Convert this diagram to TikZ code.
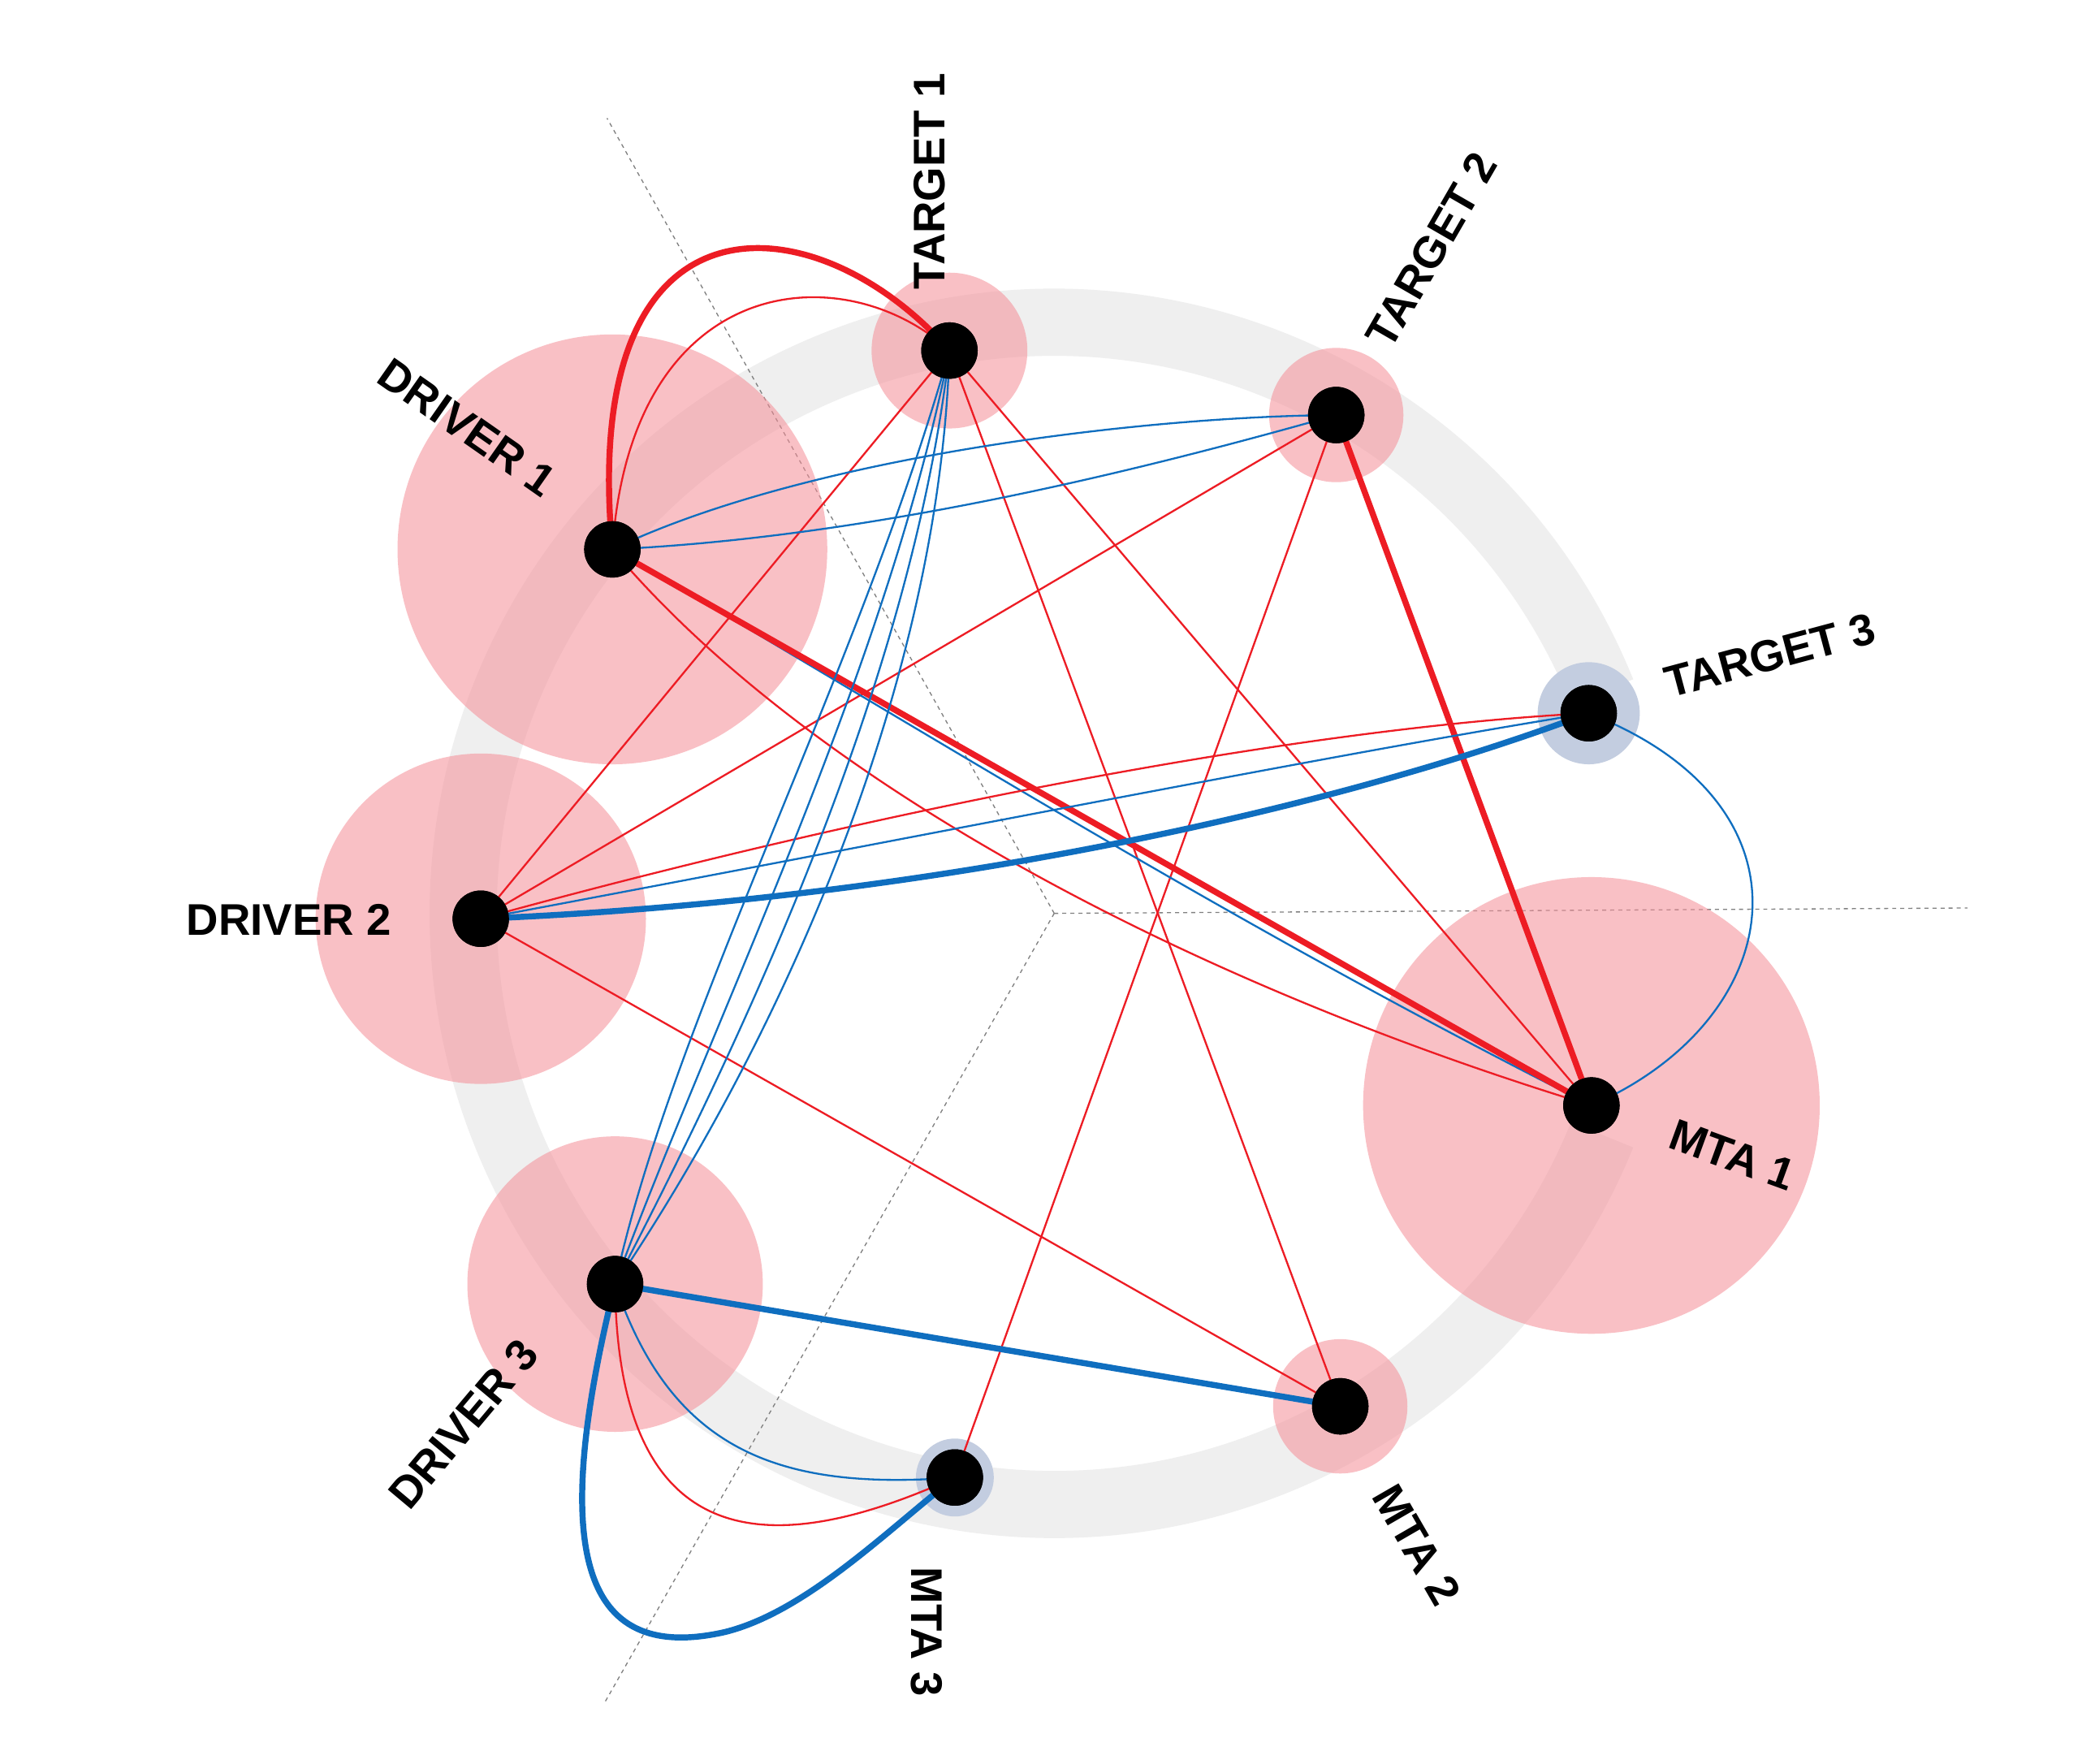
\documentclass[tikz,border=0pt]{standalone}
\usepackage{fontspec}
\setmainfont{Liberation Sans}
\begin{document}
\begin{tikzpicture}[x=1pt,y=-1pt,
  lab/.style={font=\bfseries\fontsize{33}{33}\selectfont},
  dot/.style={circle,fill=black,inner sep=0,minimum size=42pt},
  rt/.style={draw=red1,line width=1.4pt},
  rT/.style={draw=red1,line width=4.5pt},
  bt/.style={draw=blue1,line width=1.4pt},
  bT/.style={draw=blue1,line width=4.5pt},
  halo/.style={fill=pink1,fill opacity=0.55},
  bhalo/.style={fill=bh}]
\definecolor{red1}{HTML}{ED1C24}
\definecolor{blue1}{HTML}{0F6EBF}
\definecolor{pink1}{HTML}{F58E97}
\definecolor{bh}{HTML}{C3CDE0}
\definecolor{band}{HTML}{EFEFEF}
\useasboundingbox (0,0) rectangle (1560,1313);
\fill[white] (0,0) rectangle (1560,1313);
% band
\draw[band,line width=50pt] (785,680) ++(-22:440) arc[start angle=-22,end angle=-338,radius=440];
% axes
\draw[dashed,gray,line width=0.8pt] (785,680) -- (1465,676);
\draw[dashed,gray,line width=0.8pt] (785,680) -- (452,88);
\draw[dashed,gray,line width=0.8pt] (785,680) -- (450,1268);
% halos
\fill[halo] (456,409) circle (160);
\fill[halo] (358,684) circle (123);
\fill[halo] (458,956) circle (110);
\fill[halo] (1185,823) circle (170);
\fill[halo] (707,261) circle (58);
\fill[halo] (995,309) circle (50);
\fill[halo] (998,1047) circle (50);
\fill[bhalo] (1183,531) circle (38);
\fill[bhalo] (711,1100) circle (29);
% nodes
\node[dot] (t1) at (707,261) {};
\node[dot] (t2) at (995,309) {};
\node[dot] (t3) at (1183,531) {};
\node[dot] (d1) at (456,409) {};
\node[dot] (d2) at (358,684) {};
\node[dot] (d3) at (458,956) {};
\node[dot] (m1) at (1185,823) {};
\node[dot] (m2) at (998,1047) {};
\node[dot] (m3) at (711,1100) {};
% edges
\draw[rT] (d1.center) .. controls (430,130) and (610,150) .. (t1.center);
\draw[rt] (d1.center) .. controls (470,200) and (630,190) .. (t1.center);
\draw[rT] (t2.center) -- (m1.center);
\draw[rt] (t1.center) -- (d2.center);
\draw[rt] (t1.center) -- (m1.center);
\draw[rt] (t1.center) -- (m2.center);
\draw[rt] (t2.center) -- (d2.center);
\draw[rt] (t2.center) -- (m3.center);
\draw[rt] (d1.center) .. controls (600,580) and (880,730) .. (m1.center);
\draw[bt] (d1.center) .. controls (650,520) and (900,680) .. (m1.center);
\draw[rT] (d1.center) -- (m1.center);
\draw[rt] (d2.center) .. controls (700,590) and (1000,540) .. (t3.center);
\draw[rt] (d2.center) -- (m2.center);
\draw[rt] (d3.center) .. controls (460,1180) and (600,1150) .. (m3.center);
\draw[bt] (d1.center) .. controls (600,340) and (850,310) .. (t2.center);
\draw[bt] (d1.center) .. controls (650,400) and (850,350) .. (t2.center);
\draw[bt] (d2.center) .. controls (700,620) and (1000,560) .. (t3.center);
\draw[bT] (d2.center) .. controls (700,670) and (1000,600) .. (t3.center);
\draw[bt] (t1.center) .. controls (640,500) and (500,760) .. (d3.center);
\draw[bt] (t1.center) .. controls (660,500) and (530,760) .. (d3.center);
\draw[bt] (t1.center) .. controls (680,500) and (560,760) .. (d3.center);
\draw[bt] (t1.center) .. controls (700,500) and (590,760) .. (d3.center);
\draw[bt] (t3.center) .. controls (1360,600) and (1330,760) .. (m1.center);
\draw[bt] (d3.center) .. controls (500,1080) and (580,1110) .. (m3.center);
\draw[bT] (d3.center) -- (m2.center);
\draw[bT] (d3.center) .. controls (410,1150) and (430,1240) .. (540,1215) .. controls (600,1200) and (660,1140) .. (m3.center);
\foreach \n in {t1,t2,t3,d1,d2,d3,m1,m2,m3} \fill (\n) circle (21);
% labels
\node[lab,rotate=90] (lt1) at (692,135) {TARGET 1};
\node[lab,rotate=60] (lt2) at (1066,186) {TARGET 2};
\node[lab,rotate=15] (lt3) at (1318,488) {TARGET 3};
\node[lab,rotate=-35] (ld1) at (348,318) {DRIVER 1};
\node[lab] (ld2) at (215,685) {DRIVER 2};
\node[lab,rotate=50] (ld3) at (345,1060) {DRIVER 3};
\node[lab,rotate=-20] (lm1) at (1290,860) {MTA 1};
\node[lab,rotate=-60] (lm2) at (1055,1150) {MTA 2};
\node[lab,rotate=-90] (lm3) at (690,1215) {MTA 3};
\end{tikzpicture}
\end{document}
